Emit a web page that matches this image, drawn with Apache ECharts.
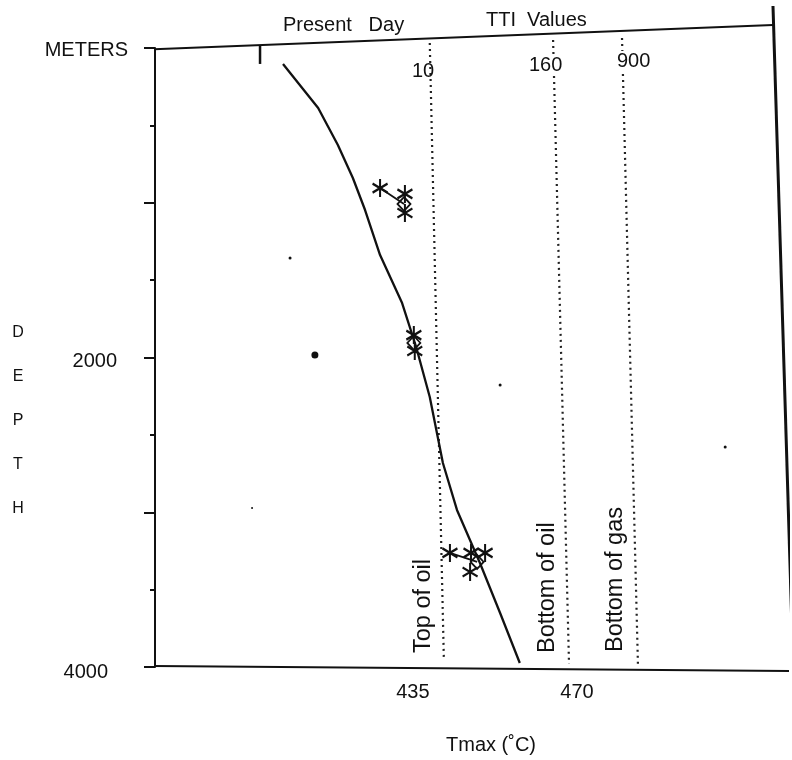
<!DOCTYPE html>
<html><head><meta charset="utf-8">
<script src="https://cdn.jsdelivr.net/npm/echarts@6/dist/echarts.min.js"></script>
<style>html,body{margin:0;padding:0;background:#fff}#c{width:792px;height:760px}</style>
</head><body><div id="c"></div>
<script>
// ---- data ----
const xTickLabels = [435, 470];                 // Tmax (°C) labels shown
const depthLabelValues = [0, 2000, 4000];        // depth (m)
const depthLabels = ['METERS', '2000', '4000'];
const ttiLabels = ['10', '160', '900'];
const zoneLabels = ['Top of oil', 'Bottom of oil', 'Bottom of gas'];

// present-day Tmax trend [Tmax, depth]
const presentDayCurve = [[407.3,103],[414.8,388],[419.0,627],[422.2,840],[424.8,1047],[428.0,1338],[432.7,1648],[435.7,1932],[438.6,2255],[441.4,2682],[444.4,2985],[449.3,3328],[453.6,3651],[457.8,3974]];
// measured samples (asterisks)
const samples = [[428.0,905],[433.3,943],[433.3,1066],[435.2,1855],[435.4,1958],[442.9,3263],[447.4,3263],[450.4,3263],[447.2,3386]];
// sample means (diamonds)
const sampleMeans = [[433.1,1008],[435.2,1906],[448.7,3321]];
const linkA = [[428.0,905],[433.1,1008]];
const linkB = [[442.9,3263],[448.7,3321]];
// TTI iso-lines (10, 160, 900)
const tti10 = [[438.6,-32],[441.6,3942]];
const tti160 = [[464.9,-52],[468.3,3981]];
const tti900 = [[479.6,-65],[483.0,3987]];
// frame of the hand-drawn plot
const frameTop = [[375.3,13],[511.8,-149]];
const frameRight = [[511.8,-271],[516.1,4006]];
const frameBottom = [[378.5,3994],[515.8,4026]];
const presentDayTick = [[402.4,-19],[402.4,103]];
// specks on the scan [Tmax, depth, size]
const specks = [[414.1,1984,7],[408.8,1357,3],[453.6,2178,3],[400.7,2973,2],[501.6,2578,3],[377.9,2339,2]];

const FONT = "'Liberation Sans', Arial, sans-serif";
const INK = '#111';

function seg(data, width, type, color) {
  return {
    type: 'line', data: data, symbol: 'none', clip: false, silent: true,
    lineStyle: { color: color || INK, width: width, type: type || 'solid' }, z: 2
  };
}

const chart = echarts.init(document.getElementById('c'), null, { renderer: 'canvas' });
const dotted = [2, 4];
chart.setOption({
  animation: false,
  backgroundColor: '#fff',
  grid: { left: 155, right: 4, top: 48, bottom: 93 },
  xAxis: {
    type: 'value', min: 380, max: 515, interval: 5,
    axisLine: { show: false }, axisTick: { show: false }, splitLine: { show: false },
    axisLabel: {
      margin: 15, fontSize: 20, fontFamily: FONT, color: INK,
      formatter: v => xTickLabels.indexOf(v) >= 0 ? String(v) : ''
    }
  },
  yAxis: {
    type: 'value', min: 0, max: 4000, interval: 1000, inverse: true,
    axisLine: { show: true, lineStyle: { color: INK, width: 2 } },
    axisTick: { show: true, length: 11, lineStyle: { color: INK, width: 2 } },
    minorTick: { show: true, splitNumber: 2, length: 5, lineStyle: { color: INK, width: 2 } },
    splitLine: { show: false },
    axisLabel: {
      margin: 0, fontFamily: FONT, color: INK, fontSize: 20,
      formatter: function (v) {
        const i = depthLabelValues.indexOf(v);
        return i < 0 ? '' : '{s' + i + '|' + depthLabels[i] + '}';
      },
      rich: {
        s0: { fontSize: 20, fontFamily: FONT, color: INK, padding: [4, 27, 0, 0] },
        s1: { fontSize: 20, fontFamily: FONT, color: INK, padding: [8, 38, 0, 0] },
        s2: { fontSize: 20, fontFamily: FONT, color: INK, padding: [10, 47, 0, 0] }
      }
    }
  },
  series: [
    seg(frameTop, 2), seg(frameRight, 3), seg(frameBottom, 2), seg(presentDayTick, 2.5),
    seg(tti10, 2.2, dotted, '#222'), seg(tti160, 2.2, dotted, '#222'), seg(tti900, 2.2, dotted, '#222'),
    seg(presentDayCurve, 2.3),
    seg(linkA, 1.8), seg(linkB, 1.8),
    {
      type: 'scatter', data: samples, z: 4,
      symbol: 'path://M10,0L10,20M1.34,5L18.66,15M1.34,15L18.66,5', symbolSize: [15, 18],
      itemStyle: { color: 'none', borderColor: INK, borderWidth: 2.2, opacity: 1 }
    },
    {
      type: 'scatter', data: sampleMeans, symbol: 'diamond', symbolSize: [13, 14], z: 5,
      itemStyle: { color: 'rgba(255,255,255,0)', borderColor: INK, borderWidth: 1.8, opacity: 1 }
    },
    {
      type: 'scatter', data: specks, symbol: 'circle', symbolSize: v => v[2], z: 2,
      itemStyle: { color: INK, opacity: 1 }
    }
  ],
  graphic: [
    { type: 'text', x: 283, y: 25, style: { text: 'Present   Day', font: '20px ' + FONT, fill: INK, verticalAlign: 'middle' } },
    { type: 'text', x: 486, y: 20, style: { text: 'TTI  Values', font: '20px ' + FONT, fill: INK, verticalAlign: 'middle' } },
    { type: 'text', x: 412, y: 71, z: 10, style: { text: ttiLabels[0], font: '20px ' + FONT, fill: INK, verticalAlign: 'middle' } },
    { type: 'text', x: 529, y: 65, z: 10, style: { text: ttiLabels[1], font: '20px ' + FONT, fill: INK, verticalAlign: 'middle', backgroundColor: '#fff' } },
    { type: 'text', x: 617, y: 61, z: 10, style: { text: ttiLabels[2], font: '20px ' + FONT, fill: INK, verticalAlign: 'middle', backgroundColor: '#fff' } },
    { type: 'text', x: 18, y: 310, style: { text: 'D\nE\nP\nT\nH', font: '16px ' + FONT, fill: INK, align: 'center', verticalAlign: 'top', lineHeight: 44.2 } },
    { type: 'text', x: 446, y: 745, style: { text: 'Tmax (˚C)', font: '20px ' + FONT, fill: INK, verticalAlign: 'middle' } },
    { type: 'text', x: 435.7, y: 653, rotation: Math.PI / 2, style: { text: zoneLabels[0], font: '23.5px ' + FONT, fill: INK, align: 'left', verticalAlign: 'bottom' } },
    { type: 'text', x: 560, y: 653, rotation: Math.PI / 2, style: { text: zoneLabels[1], font: '23.5px ' + FONT, fill: INK, align: 'left', verticalAlign: 'bottom' } },
    { type: 'text', x: 628, y: 652, rotation: Math.PI / 2, style: { text: zoneLabels[2], font: '23.5px ' + FONT, fill: INK, align: 'left', verticalAlign: 'bottom' } }
  ]
});
</script>
</body></html>
